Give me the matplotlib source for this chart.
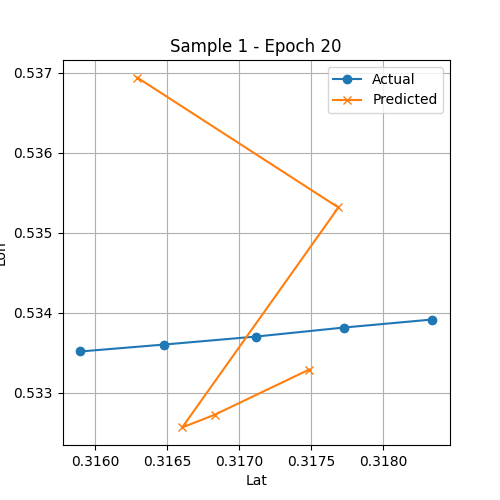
import matplotlib
matplotlib.use("Agg")
from matplotlib import pyplot as plt

actual_lat = [0.315896, 0.316479, 0.317118, 0.317729, 0.318340]
actual_lon = [0.533513, 0.533600, 0.533700, 0.533813, 0.533913]
pred_lat = [0.316292, 0.317688, 0.316604, 0.316833, 0.317486]
pred_lon = [0.536938, 0.535313, 0.532563, 0.532725, 0.533288]

fig = plt.figure(figsize=(5, 5), dpi=100)
plt.plot(actual_lat, actual_lon, marker='o', label='Actual')
plt.plot(pred_lat, pred_lon, marker='x', label='Predicted')
plt.xlabel('Lat')
plt.ylabel('Lon')
plt.title('Sample 1 - Epoch 20')
plt.legend()
plt.grid(True)
plt.savefig('out.png')
